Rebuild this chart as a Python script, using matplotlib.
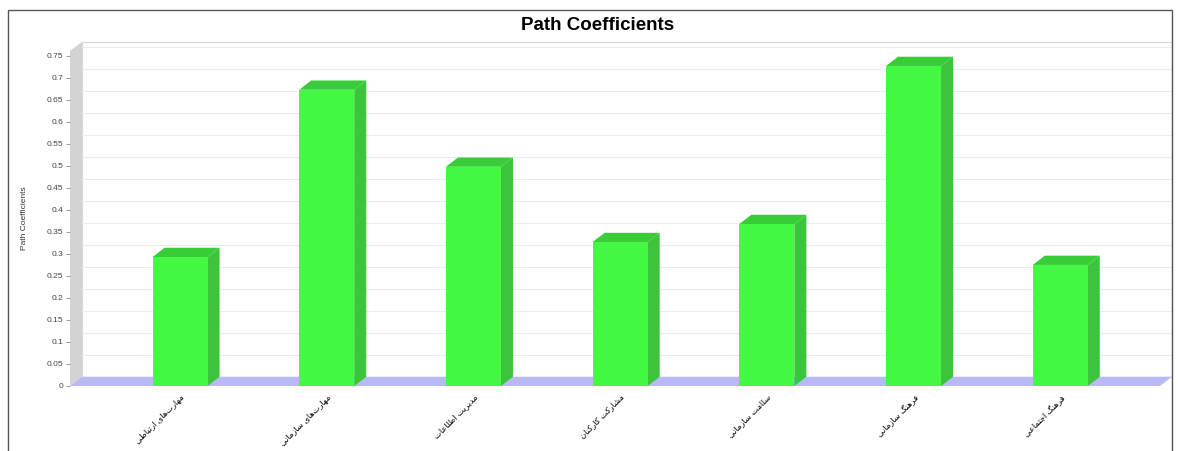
import unicodedata
import numpy as np
import matplotlib
matplotlib.use("Agg")
import matplotlib.pyplot as plt
from matplotlib.patches import Polygon, Rectangle

plt.rcParams['font.family'] = ['Liberation Sans', 'DejaVu Sans']

# path coefficients per relation
categories = [
    "مهارت‌های ارتباطی",
    "مهارت‌های سازمانی",
    "مدیریت اطلاعات",
    "مشارکت کارکنان",
    "سلامت سازمانی",
    "فرهنگ سازمانی",
    "فرهنگ اجتماعی",
]
values = [0.293, 0.673, 0.498, 0.327, 0.368, 0.727, 0.275]
y_ticks = [0, 0.05, 0.1, 0.15, 0.2, 0.25, 0.3, 0.35, 0.4, 0.45, 0.5, 0.55, 0.6, 0.65, 0.7, 0.75]


def _forms(ch):
    try:
        name = unicodedata.name(ch)
    except ValueError:
        return None
    if not name.startswith("ARABIC LETTER"):
        return None
    out = {}
    for f in ("ISOLATED", "FINAL", "INITIAL", "MEDIAL"):
        try:
            out[f] = unicodedata.lookup(f"{name} {f} FORM")
        except KeyError:
            pass
    return out or None


def shape_fa(text):
    """Join Persian letters into presentation forms and put them in visual order."""
    chars = list(text)
    shaped = []
    for i, ch in enumerate(chars):
        f = _forms(ch)
        if f is None:
            if ch != "\u200c":
                shaped.append(ch)
            continue
        prev_f = _forms(chars[i - 1]) if i > 0 else None
        next_f = _forms(chars[i + 1]) if i + 1 < len(chars) else None
        join_prev = prev_f is not None and "INITIAL" in prev_f and "FINAL" in f
        join_next = next_f is not None and "INITIAL" in f and "FINAL" in next_f
        if join_prev and join_next:
            key = "MEDIAL"
        elif join_prev:
            key = "FINAL"
        elif join_next:
            key = "INITIAL"
        else:
            key = "ISOLATED"
        shaped.append(f.get(key, f.get("ISOLATED", ch)))
    return "".join(reversed(shaped))


W, H = 1178, 451
fig = plt.figure(figsize=(W / 100, H / 100), dpi=100)
fig.patch.set_facecolor("white")

# front plane of the 3D plot
ax = fig.add_axes([70 / W, (H - 386) / H, 1090 / W, 335 / H])
x0, x1 = -0.75, 6.68
y0, y1 = 0, 0.761
ax.set_xlim(x0, x1)
ax.set_ylim(y0, y1)
ax.patch.set_visible(False)
for s in ax.spines.values():
    s.set_visible(False)

DX, DY = 0.082, 0.021   # depth offset of the 3D effect
bw = 0.375

# back wall, left wall and floor
ax.add_patch(Rectangle((x0 + DX, y0 + DY), x1 - x0, y1 - y0, facecolor="white",
                       edgecolor="#d8d8d8", lw=0.8, clip_on=False, zorder=0))
ax.add_patch(Polygon([(x0, y0), (x0 + DX, y0 + DY), (x0 + DX, y1 + DY), (x0, y1)],
                     closed=True, facecolor="#d3d3d3", edgecolor="none", clip_on=False, zorder=1))
for v in y_ticks[1:]:
    ax.plot([x0 + DX, x1 + DX], [v + DY, v + DY], color="#ebebeb", lw=0.7,
            clip_on=False, zorder=1)
ax.add_patch(Polygon([(x0, y0), (x0 + DX, y0 + DY), (x1 + DX, y0 + DY), (x1, y0)],
                     closed=True, facecolor="#b9b9f5", edgecolor="none", clip_on=False, zorder=2))

# 3D bars
for i, v in enumerate(values):
    l, r = i - bw / 2, i + bw / 2
    ax.add_patch(Polygon([(r, 0), (r + DX, DY), (r + DX, v + DY), (r, v)], closed=True,
                         facecolor="#3cc43c", edgecolor="none", clip_on=False, zorder=3))
    ax.add_patch(Polygon([(l, v), (l + DX, v + DY), (r + DX, v + DY), (r, v)], closed=True,
                         facecolor="#38cc38", edgecolor="none", clip_on=False, zorder=3))
    ax.add_patch(Rectangle((l, 0), bw, v, facecolor="#44f844", edgecolor="none",
                           clip_on=False, zorder=4))

ax.set_yticks(y_ticks)
ax.set_yticklabels([f"{t:g}" for t in y_ticks])
ax.tick_params(axis="y", length=3, width=0.6, color="#888888", labelsize=6,
               labelcolor="#444444", pad=2)
ax.set_ylabel("Path Coefficients", fontsize=6, color="#333333")
ax.yaxis.set_label_coords(-0.0385, 0.5)

ax.set_xticks(range(len(categories)))
ax.set_xticklabels([shape_fa(c) for c in categories], rotation=45, ha="right",
                   va="top", rotation_mode="anchor", fontsize=6)
ax.tick_params(axis="x", length=0, pad=5)

fig.text(598 / W, 1 - 25 / H, "Path Coefficients", ha="center", va="center",
         fontsize=13.5, fontweight="bold")

# outer border
fig.add_artist(Rectangle((8 / W, -0.05), (1172 - 8) / W, (H - 10) / H + 0.05,
                         transform=fig.transFigure, fill=False, edgecolor="#555555", lw=1))

fig.savefig("out.png", dpi=100)
